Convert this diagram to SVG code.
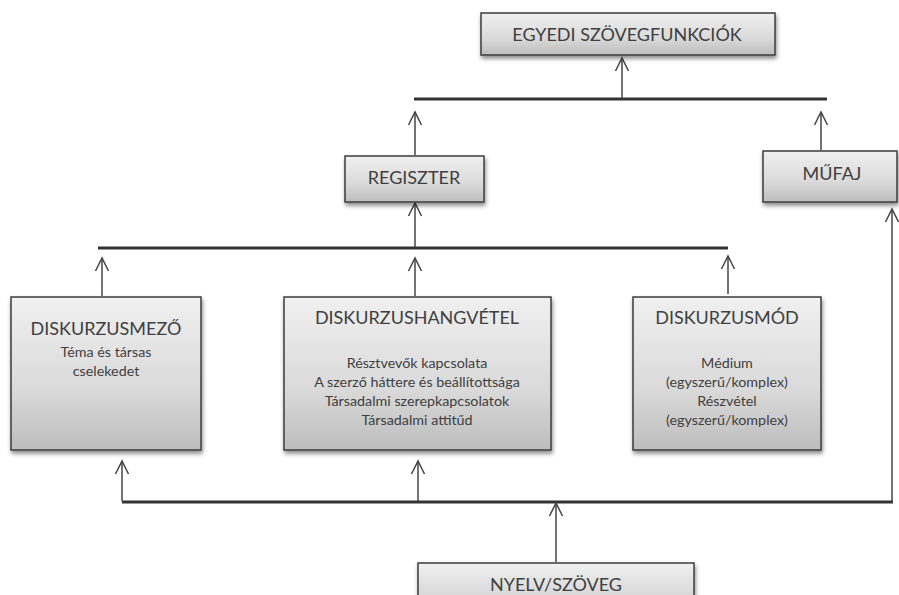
<svg xmlns="http://www.w3.org/2000/svg" width="899" height="595" viewBox="0 0 899 595">
  <defs>
    <linearGradient id="g" x1="0" y1="0" x2="0" y2="1">
      <stop offset="0" stop-color="#f0f0f0"/>
      <stop offset="0.6" stop-color="#dadada"/>
      <stop offset="1" stop-color="#bdbdbd"/>
    </linearGradient>
    <filter id="sh" x="-10%" y="-10%" width="125%" height="130%">
      <feDropShadow dx="1" dy="3" stdDeviation="2" flood-color="#000" flood-opacity="0.45"/>
    </filter>
    <marker id="ah" viewBox="-14 -8 16 16" refX="0" refY="0" markerWidth="16" markerHeight="16" markerUnits="userSpaceOnUse" orient="auto">
      <path d="M-13,-6.5 L0,0 L-13,6.5" fill="none" stroke="#444" stroke-width="1.5"/>
    </marker>
  </defs>
  <style>
    .box { fill: url(#g); stroke: #3c3c3c; stroke-width: 1.5; filter: url(#sh); }
    .t { font-family: Lato, "Liberation Sans", sans-serif; fill: #404040; text-anchor: middle; }
    .title { font-size: 18px; }
    .sub { font-size: 14.3px; }
    .bar { stroke: #333; stroke-width: 3; fill: none; }
    .arr { stroke: #444; stroke-width: 1.5; fill: none; marker-end: url(#ah); }
  </style>
  <rect width="899" height="595" fill="#fff"/>

  <g id="connectors">
    <line class="bar" x1="414" y1="99" x2="827" y2="99"/>
    <line class="arr" x1="622" y1="98" x2="622" y2="58"/>
    <line class="arr" x1="415" y1="155" x2="415" y2="112"/>
    <line class="arr" x1="821" y1="150" x2="821" y2="112"/>
    <line class="bar" x1="98" y1="248" x2="728" y2="248"/>
    <line class="arr" x1="415" y1="247" x2="415" y2="203"/>
    <line class="arr" x1="102" y1="296" x2="102" y2="258"/>
    <line class="arr" x1="415" y1="296" x2="415" y2="258"/>
    <line class="arr" x1="728" y1="294" x2="728" y2="256"/>
    <path class="bar" d="M122,502 H893"/>
    <line class="arr" x1="892" y1="501" x2="892" y2="209"/>
    <line class="arr" x1="122" y1="501" x2="122" y2="461"/>
    <line class="arr" x1="418" y1="501" x2="418" y2="461"/>
    <line class="arr" x1="556" y1="562" x2="556" y2="503"/>
  </g>

  <g id="egyedi">
    <rect class="box" x="481" y="13" width="294" height="42"/>
    <text class="t title" x="627" y="41">EGYEDI SZÖVEGFUNKCIÓK</text>
  </g>
  <g id="regiszter">
    <rect class="box" x="345" y="156" width="139" height="46"/>
    <text class="t title" x="414" y="184">REGISZTER</text>
  </g>
  <g id="mufaj">
    <rect class="box" x="763" y="151" width="134" height="51"/>
    <text class="t title" x="832" y="180">MŰFAJ</text>
  </g>
  <g id="diskurzusmezo">
    <rect class="box" x="11" y="297" width="190" height="153"/>
    <text class="t title" x="106" y="335">DISKURZUSMEZŐ</text>
    <text class="t sub" x="106" y="357">Téma és társas</text>
    <text class="t sub" x="106" y="376">cselekedet</text>
  </g>
  <g id="diskurzushangvetel">
    <rect class="box" x="284" y="297" width="267" height="153"/>
    <text class="t title" x="417" y="324">DISKURZUSHANGVÉTEL</text>
    <text class="t sub" x="417" y="368">Résztvevők kapcsolata</text>
    <text class="t sub" x="417" y="387">A szerző háttere és beállítottsága</text>
    <text class="t sub" x="417" y="406">Társadalmi szerepkapcsolatok</text>
    <text class="t sub" x="417" y="425">Társadalmi attitűd</text>
  </g>
  <g id="diskurzusmod">
    <rect class="box" x="633" y="297" width="188" height="153"/>
    <text class="t title" x="727" y="324">DISKURZUSMÓD</text>
    <text class="t sub" x="727" y="368">Médium</text>
    <text class="t sub" x="727" y="387">(egyszerű/komplex)</text>
    <text class="t sub" x="727" y="406">Részvétel</text>
    <text class="t sub" x="727" y="425">(egyszerű/komplex)</text>
  </g>
  <g id="nyelv">
    <rect class="box" x="418" y="563" width="276" height="50"/>
    <text class="t title" x="556" y="591">NYELV/SZÖVEG</text>
  </g>
</svg>
